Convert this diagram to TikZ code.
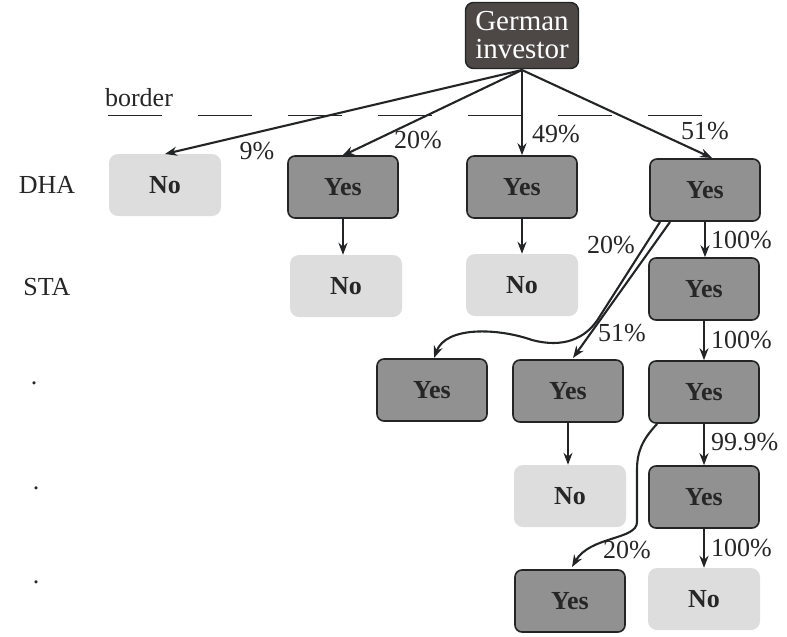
\documentclass[tikz,border=0pt]{standalone}
\usepackage{fontspec}
\setmainfont{Liberation Serif}
\usetikzlibrary{arrows.meta}
\definecolor{darkbox}{RGB}{77,72,70}
\definecolor{yesfill}{RGB}{145,145,145}
\definecolor{nofill}{RGB}{221,221,221}
\definecolor{edge}{RGB}{34,36,38}
\begin{document}
\begin{tikzpicture}[x=1pt,y=-1pt,
  yesbox/.style={draw=edge,line width=1.6pt,fill=yesfill,rounded corners=7pt,minimum width=110pt,minimum height=62pt,inner sep=0pt,font=\fontsize{26}{28}\selectfont\bfseries,text=black!85},
  nobox/.style={fill=nofill,rounded corners=9pt,minimum width=112pt,minimum height=62pt,inner sep=0pt,font=\fontsize{26}{28}\selectfont\bfseries,text=black!85},
  lbl/.style={font=\fontsize{26}{28}\selectfont,text=black!85,inner sep=0pt},
  arr/.style={draw=edge,line width=2.1pt,-{Stealth[length=12pt,width=9pt]}},
  ln/.style={draw=edge,line width=2.1pt}
]
\useasboundingbox (0,0) rectangle (787,637);
% top box
\node[draw=edge,line width=1.4pt,fill=darkbox,rounded corners=8pt,minimum width=113pt,minimum height=66pt,inner sep=0pt,align=center,text=white,font=\fontsize{29}{28}\selectfont] (g) at (522,35.5) {German\\investor};
\coordinate (gs) at (522,70);
% border line
\node[lbl,anchor=base] (bl) at (139,106) {border};
\draw[edge,line width=1pt,dash pattern=on 54pt off 36pt] (108,115) -- (725,115);
% row labels
\node[lbl] (dha) at (47,185) {DHA};
\node[lbl] (sta) at (47,287) {STA};
\node[lbl] (d1) at (34,383) {.};
\node[lbl] (d2) at (36,488) {.};
\node[lbl] (d3) at (36,582) {.};
% row 1
\node[nobox] (n1) at (165,185) {No};
\node[yesbox] (y2) at (343,187) {Yes};
\node[yesbox] (y3) at (522,187) {Yes};
\node[yesbox] (y4) at (705,190) {Yes};
% row 2
\node[nobox] (n2) at (346,286) {No};
\node[nobox] (n3) at (522,285) {No};
\node[yesbox] (y5) at (704,289) {Yes};
% row 3
\node[yesbox] (y6) at (432,390) {Yes};
\node[yesbox] (y7) at (568,391) {Yes};
\node[yesbox] (y8) at (704,392) {Yes};
% row 4
\node[nobox] (n4) at (570,496) {No};
\node[yesbox] (y9) at (704,497) {Yes};
% row 5
\node[yesbox] (y10) at (570,601) {Yes};
\node[nobox] (n5) at (704,599) {No};
% top arrows
\draw[arr] (gs) -- (165,154);
\draw[arr] (gs) -- (342,156);
\draw[arr] (gs) -- (y3.north);
\draw[arr] (gs) -- (712,158);
\node[lbl] (p9) at (257,151) {9\%};
\node[lbl] (p20a) at (418,140) {20\%};
\node[lbl] (p49) at (556,134) {49\%};
\node[lbl] (p51a) at (705,131) {51\%};
% verticals
\draw[arr] (y2.south) -- (n2.north -| y2.south);
\draw[arr] (y3.south) -- (n3.north -| y3.south);
\draw[arr] (y4.south) -- (y5.north -| y4.south);
\draw[arr] (y5.south) -- (y8.north -| y5.south);
\draw[arr] (y8.south) -- (y9.north -| y8.south);
\draw[arr] (y9.south) -- (n5.north -| y9.south);
\draw[arr] (y7.south) -- (n4.north -| y7.south);
\node[lbl,anchor=west] (p100a) at (711,240) {100\%};
\node[lbl,anchor=west] (p100b) at (711,340) {100\%};
\node[lbl,anchor=west] (p999) at (711,442) {99.9\%};
\node[lbl,anchor=west] (p100c) at (711,548) {100\%};
% diagonal from y4
\coordinate (s1) at (660,222);
\coordinate (s2) at (670,222);
\draw[arr] (s1) -- (600,316) .. controls (586,340) and (562,348) .. (532,340) .. controls (498,328) and (446,326) .. (434,358);
\draw[arr] (s2) -- (573,358);
\node[lbl] (p20b) at (611,245) {20\%};
\node[lbl] (p51b) at (622,333) {51\%};
% curve from y8
\coordinate (s3) at (657,424);
\draw[arr] (s3) .. controls (642,440) and (637,452) .. (637,470) -- (637,522) .. controls (637,540) and (590,536) .. (572,567);
\node[lbl] (p20c) at (627,550) {20\%};
\end{tikzpicture}
\end{document}
